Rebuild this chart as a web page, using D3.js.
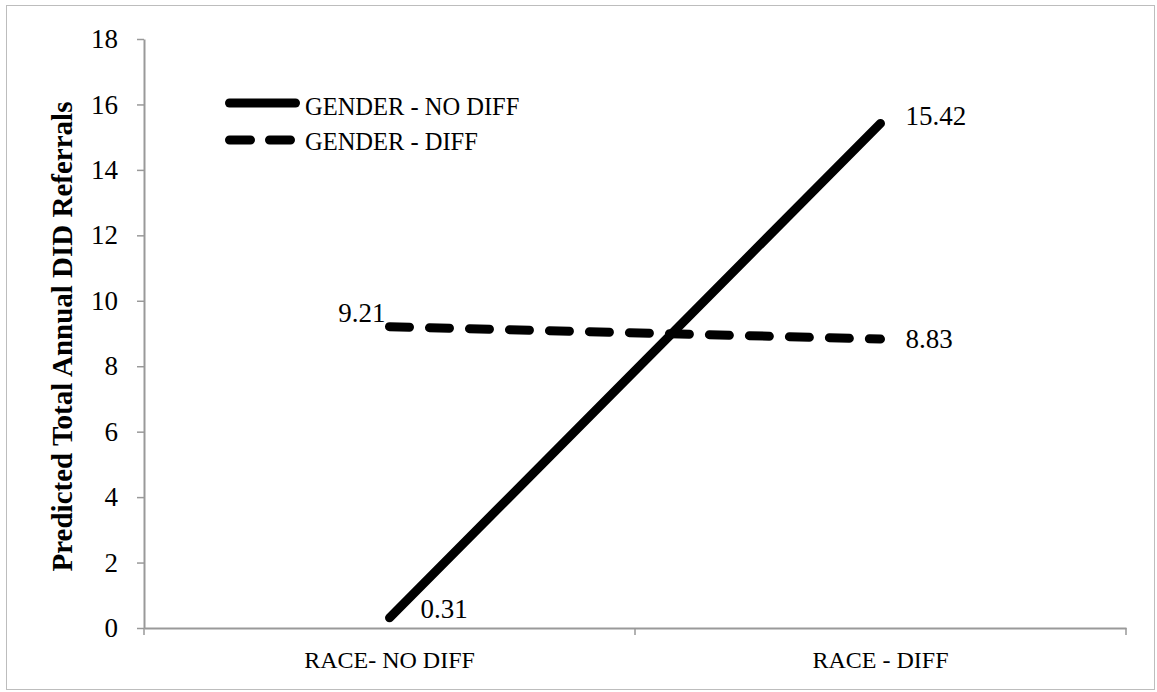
<!DOCTYPE html>
<html>
<head>
<meta charset="utf-8">
<script src="https://cdn.jsdelivr.net/npm/d3@7"></script>
<style>
  body { margin: 0; background: #fff; }
  svg text { font-family: "Liberation Serif", "DejaVu Serif", serif; fill: #000; }
</style>
</head>
<body>
<div id="chart"></div>
<script>
// data
let categories = ["RACE- NO DIFF", "RACE - DIFF"];
let seriesNames = ["GENDER - NO DIFF", "GENDER - DIFF"];
let noDiffValues = [0.31, 15.42];
let diffValues = [9.21, 8.83];
let yTicks = [0, 2, 4, 6, 8, 10, 12, 14, 16, 18];
let yTitle = "Predicted Total Annual DID Referrals";

let width = 1157, height = 692;
let margin = {top: 39, right: 31, bottom: 64, left: 144};

let svg = d3.select("#chart").append("svg")
    .attr("width", width)
    .attr("height", height);

// outer border
svg.append("rect")
    .attr("x", 6.5).attr("y", 5.5)
    .attr("width", width - 9).attr("height", height - 8)
    .attr("fill", "none")
    .attr("stroke", "#bdbdbd")
    .attr("stroke-width", 1);

let x = d3.scaleBand()
    .domain(categories)
    .range([margin.left, width - margin.right]);

let y = d3.scaleLinear()
    .domain([0, 18])
    .range([height - margin.bottom, margin.top]);

let axisColor = "#999";

// y axis
let yAxis = svg.append("g")
    .attr("transform", `translate(${margin.left},0)`)
    .call(d3.axisLeft(y).tickValues(yTicks).tickSize(7).tickPadding(19).tickSizeOuter(0));
yAxis.select(".domain").attr("stroke", axisColor).attr("stroke-width", 2);
yAxis.selectAll(".tick line").attr("stroke", axisColor).attr("stroke-width", 1.5);
yAxis.selectAll(".tick text").style("font-size", "27px");

// x axis
let xAxis = svg.append("g")
    .attr("transform", `translate(0,${y(0)})`)
    .call(d3.axisBottom(x).tickSize(0).tickPadding(23).tickSizeOuter(0));
xAxis.select(".domain").attr("stroke", axisColor).attr("stroke-width", 2);
xAxis.selectAll(".tick text").style("font-size", "24px");

// x boundary ticks
let bounds = [x.range()[0], x.range()[0] + x.bandwidth(), x.range()[1]];
svg.selectAll(".xtick").data(bounds).enter().append("line")
    .attr("x1", d => d).attr("x2", d => d)
    .attr("y1", y(0)).attr("y2", y(0) + 7)
    .attr("stroke", axisColor).attr("stroke-width", 1.5);

// y title
svg.append("text")
    .attr("transform", `translate(72,${(y(0) + y(18)) / 2 + 3}) rotate(-90)`)
    .attr("text-anchor", "middle")
    .style("font-size", "29px")
    .style("font-weight", "bold")
    .text(yTitle);

let line = d3.line()
    .x((d, i) => x(categories[i]) + x.bandwidth() / 2)
    .y(d => y(d));

let dash = "20,20";

svg.append("path")
    .datum(noDiffValues)
    .attr("d", line)
    .attr("fill", "none")
    .attr("stroke", "#000")
    .attr("stroke-width", 9)
    .attr("stroke-linecap", "round");

svg.append("path")
    .datum(diffValues)
    .attr("d", line)
    .attr("fill", "none")
    .attr("stroke", "#000")
    .attr("stroke-width", 9)
    .attr("stroke-linecap", "round")
    .attr("stroke-dasharray", dash);

// data labels
let cx = i => x(categories[i]) + x.bandwidth() / 2;
let labelSize = "27px";
svg.append("text").attr("x", cx(0) + 31).attr("y", y(noDiffValues[0]))
    .style("font-size", labelSize).text(noDiffValues[0].toFixed(2));
svg.append("text").attr("x", cx(1) + 25).attr("y", y(noDiffValues[1]) + 2)
    .style("font-size", labelSize).text(noDiffValues[1].toFixed(2));
svg.append("text").attr("x", cx(0) - 4).attr("y", y(diffValues[0]) - 5)
    .attr("text-anchor", "end")
    .style("font-size", labelSize).text(diffValues[0].toFixed(2));
svg.append("text").attr("x", cx(1) + 25).attr("y", y(diffValues[1]) + 9)
    .style("font-size", labelSize).text(diffValues[1].toFixed(2));

// legend
let legend = svg.append("g").attr("transform", "translate(229.5,103)");
seriesNames.forEach((name, i) => {
    let g = legend.append("g").attr("transform", `translate(0,${i * 37})`);
    g.append("line")
        .attr("x1", 0).attr("x2", 66)
        .attr("y1", 0).attr("y2", 0)
        .attr("stroke", "#000")
        .attr("stroke-width", 9)
        .attr("stroke-linecap", "round")
        .attr("stroke-dasharray", i === 1 ? "21,19" : null);
    g.append("text")
        .attr("x", 75.5).attr("y", i === 0 ? 12 : 10)
        .style("font-size", "24.5px")
        .text(name);
});
</script>
</body>
</html>
